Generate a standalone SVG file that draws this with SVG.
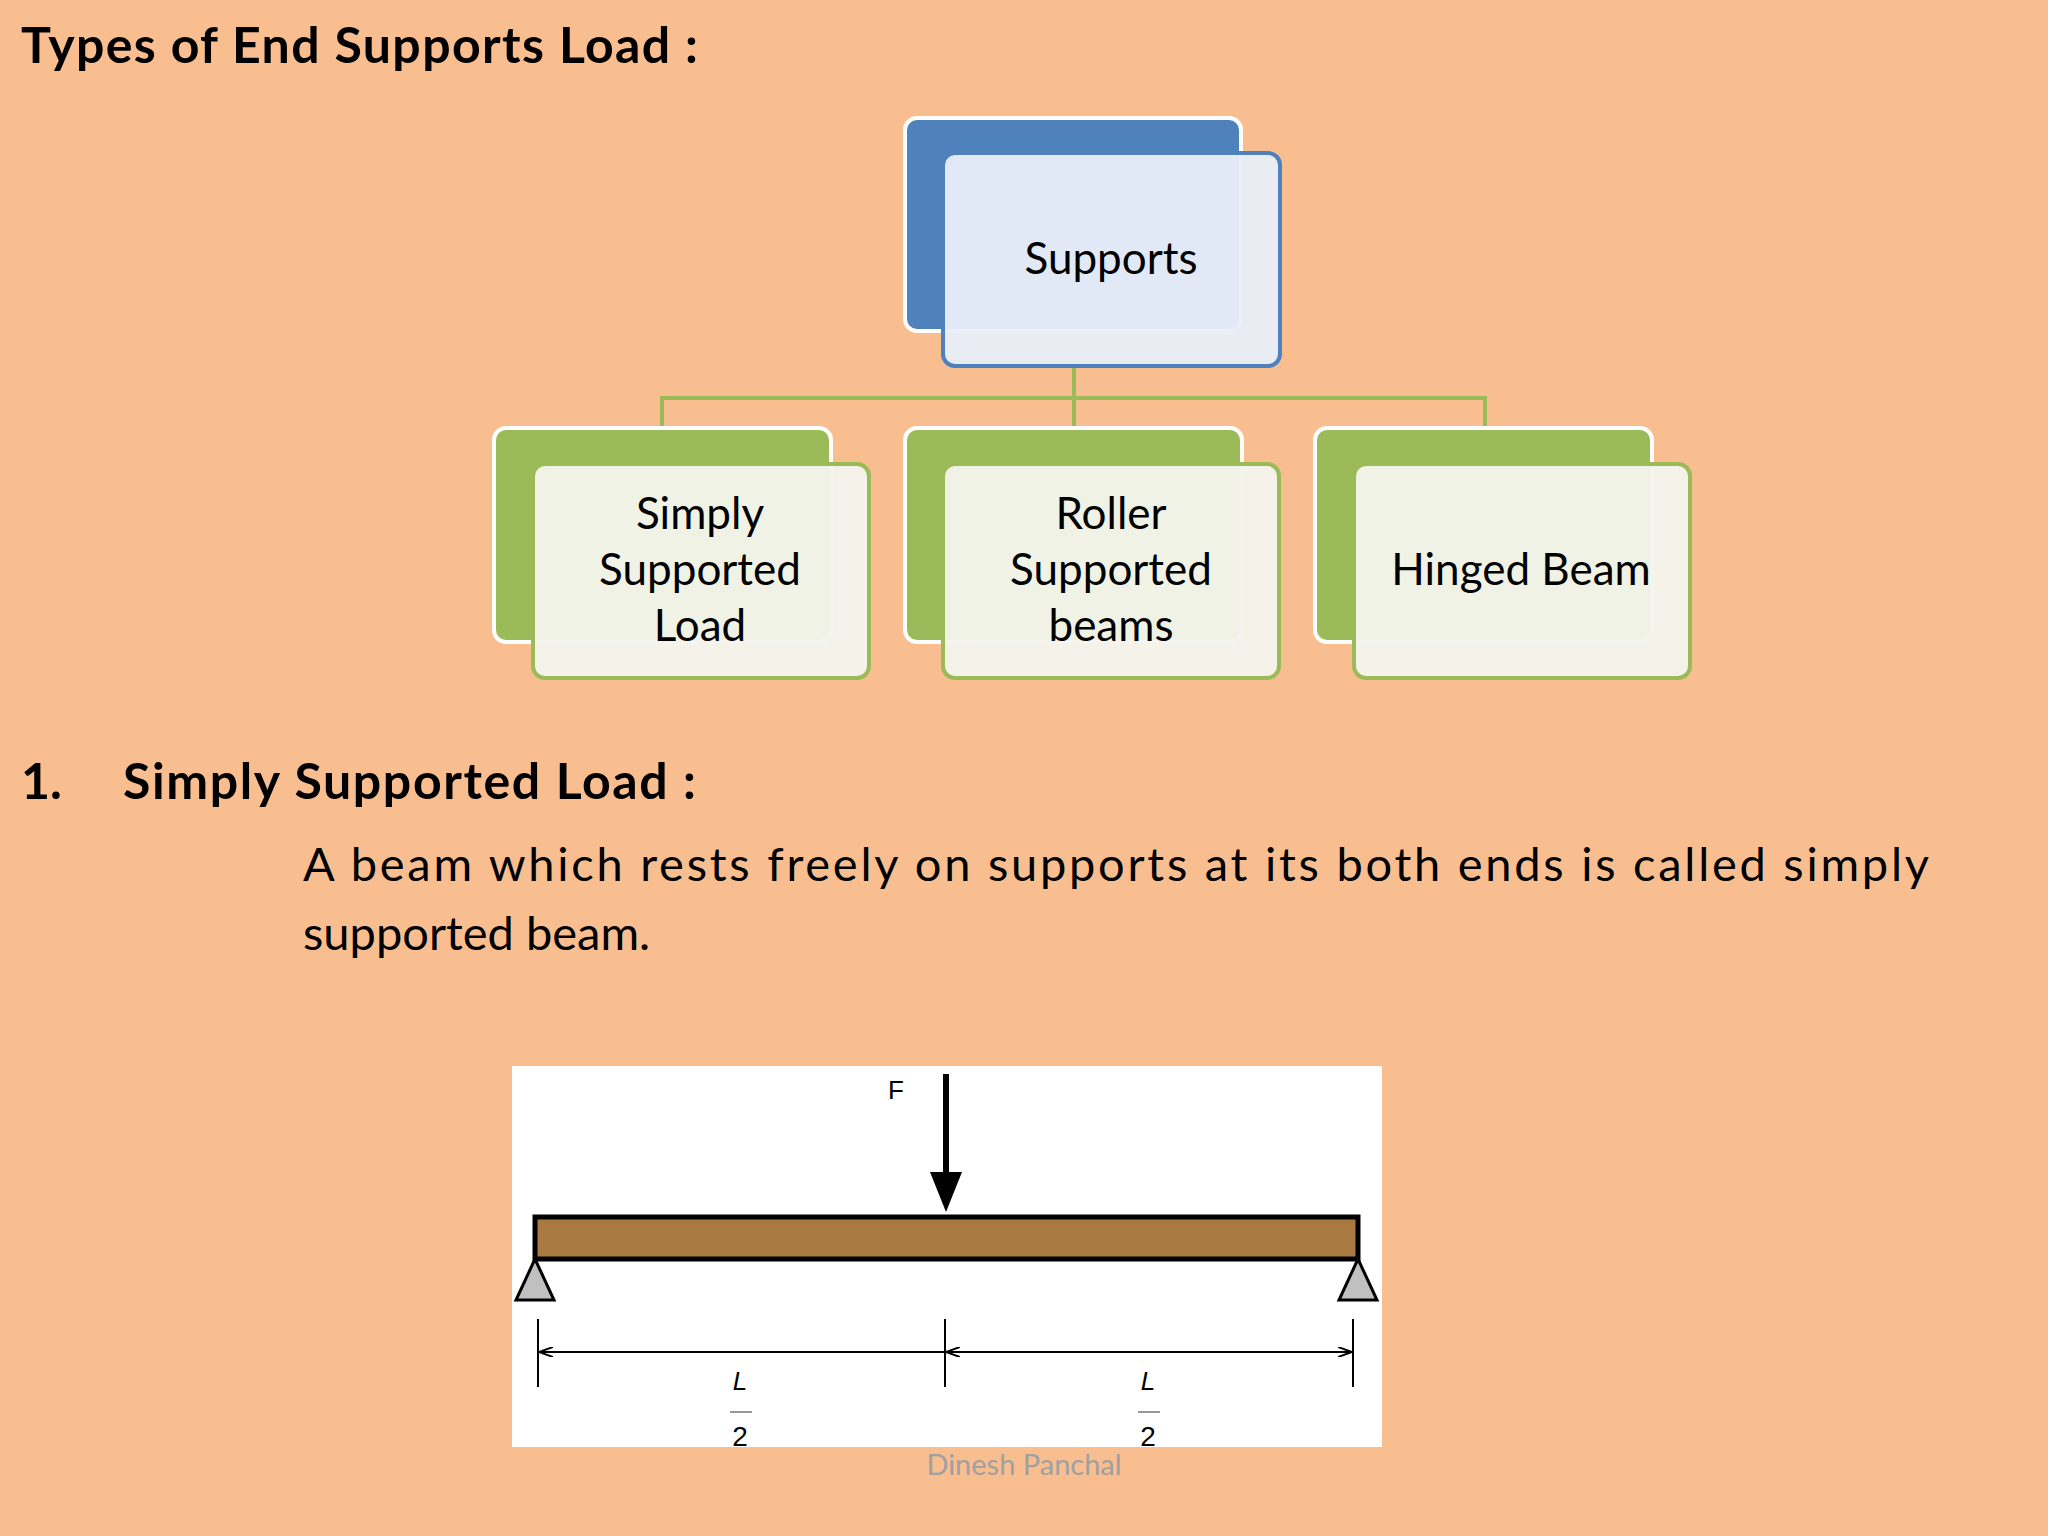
<svg xmlns="http://www.w3.org/2000/svg" width="2048" height="1536" viewBox="0 0 2048 1536">
<style>
text{font-family:Lato,"Open Sans","Liberation Sans",sans-serif;fill:#000}
.h{font-weight:bold;font-size:50px}
.n{font-size:44px;text-anchor:middle}
.p{font-size:47px}
.bb{fill:#4F81BD;stroke:#fff;stroke-width:4}
.bf{fill:#E8EEF8;fill-opacity:.95;stroke:#4F81BD;stroke-width:4}
.gb{fill:#9BBB59;stroke:#fff;stroke-width:4}
.gf{fill:#F4F4EE;fill-opacity:.95;stroke:#9BBB59;stroke-width:4}
.c{stroke:#9BBB59;stroke-width:4;fill:none}
.d{stroke:#000;stroke-width:2;fill:none}
</style>
<defs>
<marker id="a" markerWidth="14" markerHeight="10" refX="13" refY="5" orient="auto" markerUnits="userSpaceOnUse"><path d="M0,0 L14,5 L0,10" fill="none" stroke="#000" stroke-width="2"/></marker>
</defs>
<rect width="2048" height="1536" fill="#F9BE8F"/>
<text class="h" x="21" y="63" textLength="677">Types of End Supports Load :</text>
<g id="connectors">
<path class="c" d="M1074,366 V398 M662,428 V398 H1485 V428 M1074,398 V428"/>
</g>
<g id="supports">
<rect class="bb" x="905" y="118" width="336" height="213" rx="12"/>
<rect class="bf" x="943" y="153" width="337" height="213" rx="12"/>
<text class="n" x="1111" y="274">Supports</text>
</g>
<g id="simply">
<rect class="gb" x="494" y="428" width="337" height="214" rx="12"/>
<rect class="gf" x="533" y="464" width="336" height="214" rx="12"/>
<text class="n" x="700" y="529">Simply</text>
<text class="n" x="700" y="585">Supported</text>
<text class="n" x="700" y="641">Load</text>
</g>
<g id="roller">
<rect class="gb" x="905" y="428" width="337" height="214" rx="12"/>
<rect class="gf" x="943" y="464" width="336" height="214" rx="12"/>
<text class="n" x="1111" y="529">Roller</text>
<text class="n" x="1111" y="585">Supported</text>
<text class="n" x="1111" y="641">beams</text>
</g>
<g id="hinged">
<rect class="gb" x="1315" y="428" width="337" height="214" rx="12"/>
<rect class="gf" x="1354" y="464" width="336" height="214" rx="12"/>
<text class="n" x="1521" y="585">Hinged Beam</text>
</g>
<text class="h" x="21" y="799">1.</text>
<text class="h" x="123" y="799" textLength="573">Simply Supported Load :</text>
<text class="p" x="303" y="881" textLength="1626">A  beam which rests freely on supports at its both ends is called simply</text>
<text class="p" x="303" y="950">supported beam.</text>
<g id="beam-figure">
<rect x="512" y="1066" width="870" height="381" fill="#fff"/>
<rect x="535" y="1217" width="823" height="42" fill="#A87A42" stroke="#000" stroke-width="5"/>
<line x1="946" y1="1074" x2="946" y2="1180" stroke="#000" stroke-width="6"/>
<path d="M930,1172 L962,1172 L946,1212 Z" fill="#000"/>
<text x="888" y="1099" style="font-family:'Liberation Sans',sans-serif;font-size:26px">F</text>
<path d="M535,1259 L516,1300 L554,1300 Z" fill="#C0C0C0" stroke="#000" stroke-width="3"/>
<path d="M1358,1259 L1339,1300 L1377,1300 Z" fill="#C0C0C0" stroke="#000" stroke-width="3"/>
<path class="d" d="M538,1319 V1387 M945,1319 V1387 M1353,1319 V1387"/>
<line class="d" x1="940" y1="1352" x2="540" y2="1352" marker-end="url(#a)"/>
<line class="d" x1="940" y1="1352" x2="1351" y2="1352" marker-end="url(#a)"/>
<line class="d" x1="950" y1="1352" x2="947" y2="1352" marker-end="url(#a)"/>
<text x="740" y="1390" text-anchor="middle" style="font-family:'Liberation Sans',sans-serif;font-size:26px;font-style:italic">L</text>
<line x1="730" y1="1412" x2="752" y2="1412" stroke="#999" stroke-width="2"/>
<text x="740" y="1446" text-anchor="middle" style="font-family:'Liberation Sans',sans-serif;font-size:28px">2</text>
<text x="1148" y="1390" text-anchor="middle" style="font-family:'Liberation Sans',sans-serif;font-size:26px;font-style:italic">L</text>
<line x1="1138" y1="1412" x2="1160" y2="1412" stroke="#999" stroke-width="2"/>
<text x="1148" y="1446" text-anchor="middle" style="font-family:'Liberation Sans',sans-serif;font-size:28px">2</text>
</g>
<text x="1024" y="1475" text-anchor="middle" style="font-size:29px;fill:#A0A0A0">Dinesh Panchal</text>
</svg>
